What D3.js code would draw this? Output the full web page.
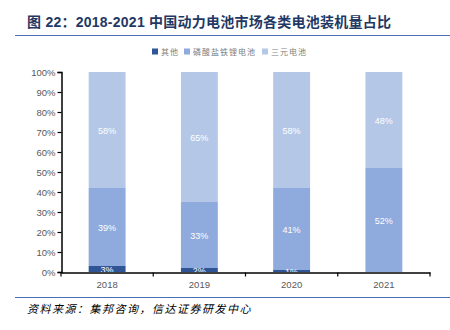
<!DOCTYPE html>
<html><head><meta charset="utf-8">
<script src="https://cdn.jsdelivr.net/npm/d3@7"></script>
<style>body{margin:0;background:#fff;}svg{display:block;}</style>
</head><body>
<script>
const years = ["2018","2019","2020","2021"];
const seriesNames = ["其他","磷酸盐铁锂电池","三元电池"];
const other = [3,2,1,0];
const lfp = [39,33,41,52];
const ncm = [58,65,58,48];
const yTicks = [0,10,20,30,40,50,60,70,80,90,100];
const colors = ["#2f5597","#8faadc","#b4c7e7"];
const titleText = "图 22：2018-2021 中国动力电池市场各类电池装机量占比";
const sourceText = "资料来源：集邦咨询，信达证券研发中心";

const W=450,H=330;
const svg=d3.select("body").append("svg").attr("width",W).attr("height",H);
const cjk = "'Liberation Sans', Arial, 'Noto Sans CJK SC', sans-serif";

svg.append("text").attr("x",27).attr("y",27).attr("font-family",cjk)
  .attr("font-size",14).attr("font-weight","bold").attr("fill","#1f3864")
  .attr("letter-spacing",0.25).text(titleText);
svg.append("line").attr("x1",15).attr("x2",450).attr("y1",35.5).attr("y2",35.5)
  .attr("stroke","#4a6fb5").attr("stroke-width",1.2);

const x=d3.scaleBand().domain(years).range([61,430]).paddingInner(0.6).paddingOuter(0.3);
const y=d3.scaleLinear().domain([0,100]).range([272,72]);

const stackData=years.map((yr,i)=>{const o={year:yr};seriesNames.forEach((s,j)=>o[s]=[other,lfp,ncm][j][i]);return o;});
const stack=d3.stack().keys(seriesNames)(stackData);

const g=svg.append("g");
stack.forEach((layer,j)=>{
  g.selectAll(null).data(layer).enter().append("rect")
    .attr("x",d=>x(d.data.year)).attr("width",x.bandwidth())
    .attr("y",d=>y(d[1])).attr("height",d=>y(d[0])-y(d[1]))
    .attr("fill",colors[j]);
});
stack.forEach((layer,j)=>{
  g.selectAll(null).data(layer.filter(d=>d[1]-d[0]>0)).enter().append("text")
    .attr("x",d=>x(d.data.year)+x.bandwidth()/2)
    .attr("y",d=>(y(d[0])+y(d[1]))/2+3.5)
    .attr("text-anchor","middle").attr("font-family","'Liberation Sans', Arial, sans-serif")
    .attr("font-size",9).attr("fill","#ffffff")
    .text(d=>(d[1]-d[0])+"%");
});

// y axis
const yAxis=svg.append("g").attr("transform","translate(61.5,0)")
  .call(d3.axisLeft(y).tickValues(yTicks).tickSize(4).tickFormat(d=>d+"%"));
yAxis.select(".domain").attr("stroke","#000").attr("stroke-width",1.5);
yAxis.selectAll(".tick line").attr("stroke","#000").attr("stroke-width",1.2);
yAxis.selectAll("text").attr("font-family","'Liberation Sans', Arial, sans-serif")
  .attr("font-size",9.5).attr("fill","#595959").attr("x",-6);

// x axis
const xAxis=svg.append("g").attr("transform","translate(0,272.5)")
  .call(d3.axisBottom(x).tickSize(0).tickSizeOuter(0));
xAxis.select(".domain").attr("stroke","#000").attr("stroke-width",1.5);
xAxis.selectAll("text").attr("font-family","'Liberation Sans', Arial, sans-serif")
  .attr("font-size",9.5).attr("fill","#595959").attr("dy","1.3em");
const bounds=[61,...years.map(d=>x(d)+x.bandwidth()/2+x.step()/2)];
xAxis.selectAll(".bt").data(bounds).enter().append("line")
  .attr("x1",d=>d).attr("x2",d=>d).attr("y1",0).attr("y2",4)
  .attr("stroke","#000").attr("stroke-width",1.2);

// legend
const legX=[152,184,262];
const leg=svg.append("g");
seriesNames.forEach((s,j)=>{
  leg.append("rect").attr("x",legX[j]).attr("y",48.5).attr("width",6).attr("height",6).attr("fill",colors[j]);
  leg.append("text").attr("x",legX[j]+9).attr("y",55).attr("font-family","'Noto Sans CJK SC', sans-serif")
    .attr("font-size",8).attr("fill","#808080").attr("letter-spacing",1).text(s);
});

// footer
svg.append("line").attr("x1",15).attr("x2",450).attr("y1",297.5).attr("y2",297.5)
  .attr("stroke","#4a6fb5").attr("stroke-width",1.2);
svg.append("text").attr("x",27).attr("y",313).attr("font-family","'Noto Sans CJK SC', sans-serif")
  .attr("font-size",11).attr("font-style","italic").attr("fill","#000").attr("letter-spacing",1.5)
  .text(sourceText);
</script>
</body></html>
